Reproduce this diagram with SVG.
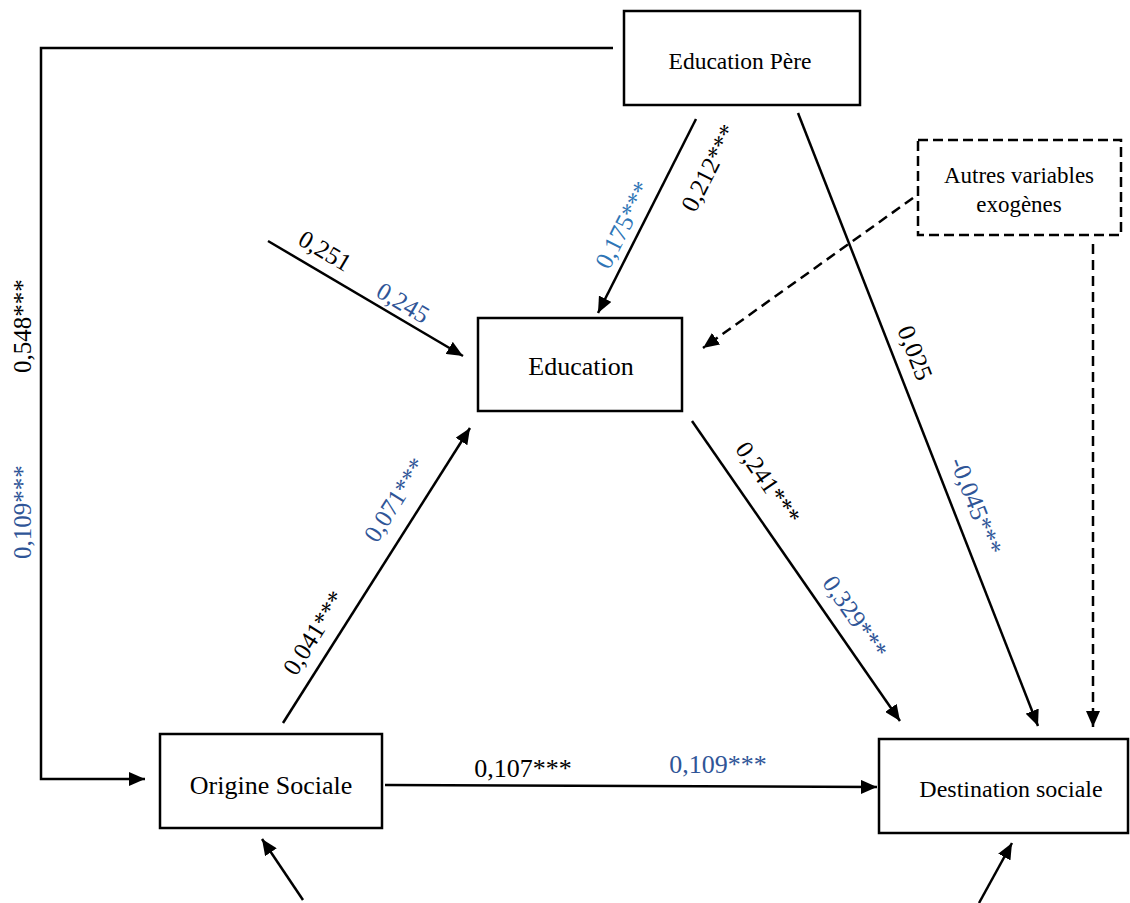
<svg xmlns="http://www.w3.org/2000/svg" width="1130" height="903" viewBox="0 0 1130 903">
<style>
.box{fill:#fff;stroke:#000;stroke-width:2.5}
.dbox{fill:#fff;stroke:#000;stroke-width:2.5;stroke-dasharray:10,5}
.ln{fill:none;stroke:#000;stroke-width:2.5}
.dln{fill:none;stroke:#000;stroke-width:2.5;stroke-dasharray:10,6}
.t{font-family:"Liberation Serif","Times New Roman",serif;fill:#000}
.lb{font-family:"Liberation Serif","Times New Roman",serif;font-size:25px;fill:#000}
.bl{fill:#2f5597}
.lbl{fill:#2e75b6}
</style>
<defs>
<marker id="ah" markerUnits="userSpaceOnUse" markerWidth="16" markerHeight="14" refX="16" refY="7" orient="auto">
<path d="M0,0 L16,7 L0,14 z" fill="#000"/>
</marker>
</defs>
<rect width="1130" height="903" fill="#fff"/>
<g id="connectors">
<polyline class="ln" points="613,48 41,48 41,779 145,779" marker-end="url(#ah)"/>
<line class="ln" x1="696" y1="119" x2="598" y2="313" marker-end="url(#ah)"/>
<line class="ln" x1="268" y1="241" x2="463" y2="356" marker-end="url(#ah)"/>
<line class="dln" x1="913" y1="198" x2="703" y2="348" marker-end="url(#ah)"/>
<line class="ln" x1="798" y1="113" x2="1038" y2="726" marker-end="url(#ah)"/>
<line class="dln" x1="1093" y1="244" x2="1093" y2="727" marker-end="url(#ah)"/>
<line class="ln" x1="692" y1="421" x2="900" y2="721" marker-end="url(#ah)"/>
<line class="ln" x1="283" y1="723" x2="470" y2="428" marker-end="url(#ah)"/>
<line class="ln" x1="385" y1="785" x2="877" y2="787" marker-end="url(#ah)"/>
<line class="ln" x1="303" y1="900" x2="262" y2="839" marker-end="url(#ah)"/>
<line class="ln" x1="979" y1="903" x2="1012" y2="843" marker-end="url(#ah)"/>
</g>
<g id="labels">
<text class="lb" text-anchor="middle" transform="translate(31,326) rotate(-90)">0,548***</text>
<text class="lb bl" text-anchor="middle" transform="translate(31,512) rotate(-90)">0,109***</text>
<text class="lb" text-anchor="middle" dy="0.33em" transform="translate(709,168) rotate(-63.2)">0,212***</text>
<text class="lb lbl" text-anchor="middle" dy="0.33em" transform="translate(623,225) rotate(-63.2)">0,175***</text>
<text class="lb" text-anchor="middle" dy="0.33em" transform="translate(325,251) rotate(30.5)">0,251</text>
<text class="lb bl" text-anchor="middle" dy="0.33em" transform="translate(403,303) rotate(30.5)">0,245</text>
<text class="lb bl" text-anchor="middle" dy="0.33em" transform="translate(395,500) rotate(-57.7)">0,071***</text>
<text class="lb" text-anchor="middle" dy="0.33em" transform="translate(314,633) rotate(-57.7)">0,041***</text>
<text class="lb" text-anchor="middle" dy="0.33em" transform="translate(768,483) rotate(55.4)">0,241***</text>
<text class="lb bl" text-anchor="middle" dy="0.33em" transform="translate(855,617) rotate(55.4)">0,329***</text>
<text class="lb" text-anchor="middle" dy="0.33em" transform="translate(915,353) rotate(68.5)">0,025</text>
<text class="lb bl" text-anchor="middle" dy="0.33em" transform="translate(976,506) rotate(68.5)">-0,045***</text>
<text class="lb" text-anchor="middle" x="523" y="777" style="font-size:26px">0,107***</text>
<text class="lb bl" text-anchor="middle" x="718" y="773" style="font-size:26px">0,109***</text>
</g>
<g id="node-education-pere">
<rect class="box" x="624" y="11" width="236" height="94"/>
<text class="t" x="740" y="69" text-anchor="middle" font-size="23.5">Education Père</text>
</g>
<g id="node-autres">
<rect class="dbox" x="918" y="140" width="203" height="95"/>
<text class="t" x="1019" y="183" text-anchor="middle" font-size="23">Autres variables</text>
<text class="t" x="1019" y="212" text-anchor="middle" font-size="23">exogènes</text>
</g>
<g id="node-education">
<rect class="box" x="478" y="318" width="204" height="93"/>
<text class="t" x="581" y="375" text-anchor="middle" font-size="26">Education</text>
</g>
<g id="node-origine">
<rect class="box" x="160" y="734" width="222" height="94"/>
<text class="t" x="271" y="794" text-anchor="middle" font-size="26">Origine Sociale</text>
</g>
<g id="node-destination">
<rect class="box" x="879" y="739" width="249" height="94"/>
<text class="t" x="1011" y="797" text-anchor="middle" font-size="24">Destination sociale</text>
</g>
</svg>
